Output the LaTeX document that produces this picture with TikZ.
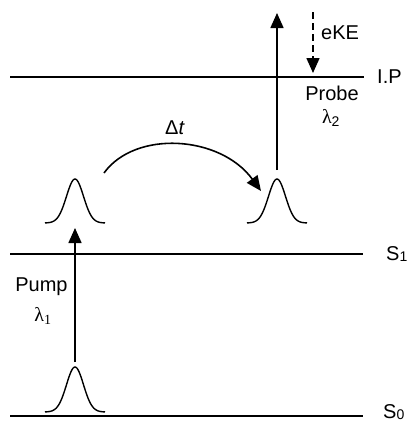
\documentclass[tikz,border=0pt]{standalone}
\usepackage{fontspec}
\setmainfont{Liberation Sans}
\newfontfamily\serifgr{Liberation Serif}
\usetikzlibrary{arrows.meta}
\newcommand{\lowsub}[1]{\raisebox{-1.5pt}{\fontsize{14}{14}\selectfont #1}}
\begin{document}
\begin{tikzpicture}[x=1pt,y=-1pt,
  level/.style={line width=1.6pt},
  conn/.style={line width=1.6pt,-{Triangle[length=15pt,width=13pt]}},
  gauss/.style={line width=1.4pt},
  lbl/.style={font=\fontsize{20}{24}\selectfont,inner sep=0pt}]
\useasboundingbox (0,0) rectangle (412,421);
% levels
\draw[level] (10,77) -- (364,77);
\draw[level] (10,254) -- (363,254);
\draw[level] (10,416) -- (363,416);
\node[lbl,anchor=west] (ip) at (377,77) {I.P};
\node[lbl,anchor=base west] (s1) at (386,260) {S\lowsub{1}};
\node[lbl,anchor=base west] (s0) at (383,418) {S\lowsub{0}};
% gaussians
\draw[gauss,domain=-30:30,samples=61,smooth] plot ({75+\x},{412-45*exp(-(\x/8.5)^2/2)});
\draw[gauss,domain=-30:30,samples=61,smooth] plot ({75+\x},{223-44*exp(-(\x/8.5)^2/2)});
\draw[gauss,domain=-30:30,samples=61,smooth] plot ({277+\x},{223-44*exp(-(\x/8.5)^2/2)});
% coordinates
\coordinate (pumpA) at (75,362);
\coordinate (pumpB) at (75,228);
\coordinate (probeA) at (277,170);
\coordinate (probeB) at (277,13);
\coordinate (ekeA) at (313,12);
\coordinate (ekeB) at (313,73);
\coordinate (dtA) at (104,173);
\coordinate (dtB) at (261,191);
% arrows
\draw[conn] (pumpA) -- (pumpB);
\draw[conn] (probeA) -- (probeB);
\draw[conn,dash pattern=on 7pt off 4pt] (ekeA) -- (ekeB);
\draw[conn] (dtA) .. controls (135,130) and (220,135) .. (dtB);
% labels
\node[lbl] (pump) at (41.5,287) {Pump};
\node[lbl] (l1) at (43,316) {{\serifgr λ}\textsubscript{\serifgr 1}};
\node[lbl] (probe) at (332,93) {Probe};
\node[lbl] (l2) at (331,118) {{\serifgr λ}\textsubscript{2}};
\node[lbl,anchor=west] (eke) at (321,33) {eKE};
\node[lbl] (dt) at (175,128) {Δ\textit{t}};
\end{tikzpicture}
\end{document}
